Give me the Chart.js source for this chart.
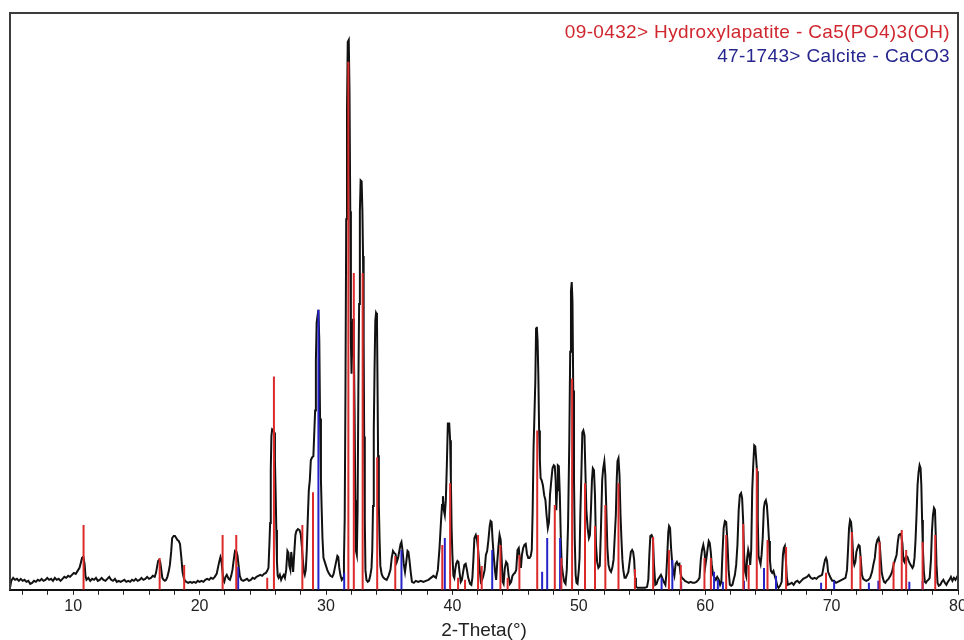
<!DOCTYPE html>
<html>
<head>
<meta charset="utf-8">
<title>XRD pattern</title>
<script src="https://cdn.jsdelivr.net/npm/chart.js@4.4.1/dist/chart.umd.min.js"></script>
<style>
  html, body { margin: 0; padding: 0; background: #ffffff; }
  #wrap { width: 964px; height: 640px; position: relative; }
</style>
</head>
<body>
<div id="wrap"><canvas id="xrd" width="964" height="640"></canvas></div>
<script>
// Measured diffraction scan: [2-theta (deg), intensity (counts)]
const scan = [
  [5.00,2],[5.10,9],[5.25,12],[5.40,10],[5.55,11],[5.70,9],[5.85,11],[6.00,9],[6.15,10],[6.30,8],
  [6.45,9],[6.60,6],[6.75,7],[6.90,9],[7.05,8],[7.20,10],[7.35,9],[7.50,11],[7.65,9],[7.80,10],
  [7.95,12],[8.10,10],[8.25,11],[8.40,9],[8.55,12],[8.70,10],[8.85,11],[9.00,9],[9.15,11],[9.30,13],
  [9.45,12],[9.60,14],[9.75,13],[9.90,15],[10.05,17],[10.20,16],[10.35,19],[10.50,22],[10.60,27],[10.70,32],
  [10.80,33],[10.90,26],[10.97,14],[11.05,10],[11.20,12],[11.35,9],[11.50,11],[11.65,10],[11.80,12],[11.95,9],
  [12.10,10],[12.25,12],[12.40,10],[12.55,9],[12.70,11],[12.85,13],[13.00,10],[13.15,9],[13.30,11],[13.45,8],
  [13.60,9],[13.75,8],[13.90,9],[14.05,10],[14.20,8],[14.35,9],[14.50,8],[14.65,10],[14.80,9],[14.95,11],
  [15.10,9],[15.25,10],[15.40,12],[15.55,10],[15.70,11],[15.85,13],[16.00,11],[16.15,12],[16.30,14],[16.45,13],
  [16.55,17],[16.65,24],[16.72,29],[16.80,30],[16.88,28],[16.95,22],[17.05,12],[17.15,10],[17.25,9],[17.35,10],
  [17.45,13],[17.55,18],[17.65,25],[17.75,38],[17.83,52],[17.95,54],[18.05,54],[18.15,52],[18.25,50],[18.35,49],
  [18.45,46],[18.55,33],[18.65,18],[18.75,12],[18.85,9],[18.95,8],[19.10,7],[19.25,8],[19.40,7],[19.55,8],
  [19.70,7],[19.85,9],[20.00,8],[20.15,9],[20.30,8],[20.45,10],[20.60,11],[20.75,10],[20.90,12],[21.05,11],
  [21.20,13],[21.35,16],[21.45,22],[21.55,28],[21.65,33],[21.72,30],[21.80,20],[21.87,10],[21.95,8],[22.05,13],
  [22.15,15],[22.30,11],[22.40,10],[22.50,14],[22.60,20],[22.70,30],[22.80,39],[22.92,38],[23.00,34],[23.08,25],
  [23.18,14],[23.30,10],[23.45,9],[23.60,10],[23.75,11],[23.90,9],[24.05,10],[24.20,12],[24.35,11],[24.50,13],
  [24.65,14],[24.80,15],[24.95,14],[25.10,16],[25.25,17],[25.35,19],[25.45,22],[25.52,45],[25.58,67],[25.63,120],
  [25.68,154],[25.74,161],[25.82,160],[25.90,158],[25.96,130],[26.02,95],[26.07,60],[26.12,28],[26.18,14],[26.25,12],
  [26.35,15],[26.45,10],[26.55,13],[26.65,15],[26.75,12],[26.85,20],[26.95,39],[27.03,37],[27.10,24],[27.18,20],
  [27.25,38],[27.32,30],[27.40,18],[27.48,35],[27.58,55],[27.66,59],[27.78,61],[27.90,60],[28.00,56],[28.08,45],
  [28.17,30],[28.25,18],[28.32,15],[28.40,20],[28.48,40],[28.56,72],[28.64,100],[28.72,110],[28.80,130],[28.90,133],
  [29.00,134],[29.08,160],[29.14,180],[29.20,230],[29.26,268],[29.33,275],[29.40,281],[29.47,250],[29.53,172],[29.60,110],
  [29.66,80],[29.72,52],[29.80,32],[29.90,28],[30.00,24],[30.10,20],[30.20,17],[30.35,14],[30.50,13],[30.60,16],
  [30.70,22],[30.80,28],[30.90,34],[30.97,33],[31.05,22],[31.15,14],[31.25,10],[31.35,12],[31.42,30],[31.48,72],
  [31.54,200],[31.60,372],[31.66,480],[31.72,550],[31.80,552],[31.86,500],[31.92,380],[31.97,250],[32.02,217],[32.08,250],
  [32.14,272],[32.20,250],[32.26,180],[32.32,90],[32.37,39],[32.44,35],[32.50,80],[32.56,200],[32.62,287],[32.68,380],
  [32.74,411],[32.82,410],[32.88,380],[32.93,335],[32.98,250],[33.02,154],[33.07,70],[33.12,20],[33.20,10],[33.30,8],
  [33.40,9],[33.50,14],[33.60,22],[33.66,40],[33.72,84],[33.78,160],[33.84,220],[33.90,270],[33.96,278],[34.03,276],
  [34.08,200],[34.12,135],[34.18,85],[34.24,50],[34.30,24],[34.40,16],[34.50,13],[34.65,11],[34.80,10],[34.95,14],
  [35.10,20],[35.20,32],[35.30,39],[35.40,37],[35.50,36],[35.60,28],[35.70,32],[35.80,39],[35.90,46],[35.97,48],
  [36.05,40],[36.15,26],[36.25,18],[36.35,28],[36.45,39],[36.52,38],[36.60,30],[36.70,18],[36.80,8],[36.95,7],
  [37.10,9],[37.30,8],[37.50,9],[37.70,8],[37.90,9],[38.10,10],[38.30,12],[38.50,14],[38.70,12],[38.85,20],
  [38.98,42],[39.10,69],[39.18,85],[39.25,94],[39.32,80],[39.40,75],[39.48,90],[39.56,125],[39.64,167],[39.75,167],
  [39.82,150],[39.88,110],[39.94,60],[40.00,35],[40.08,14],[40.15,12],[40.22,20],[40.30,26],[40.40,29],[40.48,28],
  [40.56,18],[40.66,8],[40.75,10],[40.85,18],[40.95,25],[41.05,26],[41.15,20],[41.25,12],[41.40,6],[41.50,5],
  [41.58,12],[41.66,30],[41.74,52],[41.85,55],[41.95,50],[42.05,38],[42.15,22],[42.25,8],[42.35,10],[42.45,14],
  [42.55,20],[42.65,35],[42.75,39],[42.85,50],[42.95,64],[43.02,69],[43.10,68],[43.18,50],[43.28,32],[43.38,18],
  [43.46,10],[43.55,28],[43.65,45],[43.73,55],[43.82,50],[43.90,30],[43.98,8],[44.05,6],[44.15,22],[44.25,28],
  [44.35,26],[44.45,14],[44.55,6],[44.65,8],[44.75,14],[44.85,16],[44.95,17],[45.05,20],[45.15,40],[45.25,42],
  [45.35,28],[45.42,22],[45.50,35],[45.60,42],[45.70,45],[45.80,46],[45.90,36],[46.00,32],[46.10,32],[46.20,34],
  [46.28,40],[46.35,80],[46.42,142],[46.50,180],[46.56,209],[46.62,262],[46.68,264],[46.74,250],[46.80,215],[46.86,160],
  [46.92,130],[46.98,112],[47.06,110],[47.16,105],[47.26,95],[47.36,90],[47.45,75],[47.55,62],[47.64,68],[47.72,95],
  [47.82,109],[47.92,122],[48.02,125],[48.10,124],[48.17,110],[48.22,80],[48.28,100],[48.34,125],[48.42,124],[48.50,95],
  [48.58,50],[48.65,25],[48.75,15],[48.85,8],[48.95,6],[49.05,20],[49.15,65],[49.25,150],[49.32,239],[49.38,300],
  [49.44,309],[49.50,290],[49.56,200],[49.62,110],[49.68,50],[49.75,15],[49.82,7],[49.90,6],[50.00,20],[50.06,32],
  [50.12,75],[50.20,115],[50.28,158],[50.36,160],[50.45,155],[50.52,120],[50.60,80],[50.70,62],[50.80,52],[50.88,55],
  [50.96,80],[51.04,110],[51.11,122],[51.20,120],[51.28,95],[51.36,45],[51.45,28],[51.55,22],[51.66,24],[51.75,60],
  [51.85,110],[51.93,122],[52.02,129],[52.10,115],[52.18,80],[52.26,42],[52.35,25],[52.45,20],[52.55,18],[52.65,22],
  [52.75,30],[52.85,55],[52.93,75],[53.00,110],[53.06,129],[53.14,132],[53.22,115],[53.30,75],[53.38,49],[53.45,30],
  [53.52,20],[53.62,12],[53.72,12],[53.82,15],[53.92,18],[54.02,28],[54.12,38],[54.22,40],[54.30,38],[54.38,30],
  [54.45,12],[54.52,3],[54.65,2],[54.85,2],[55.05,2],[55.25,2],[55.40,3],[55.50,10],[55.58,35],[55.66,54],
  [55.76,55],[55.86,52],[55.95,25],[56.05,5],[56.15,6],[56.25,10],[56.40,13],[56.50,15],[56.60,12],[56.72,8],
  [56.85,5],[56.92,15],[57.00,35],[57.08,58],[57.14,64],[57.22,62],[57.30,42],[57.40,25],[57.48,18],[57.56,14],
  [57.66,26],[57.76,28],[57.86,25],[57.96,26],[58.05,16],[58.15,12],[58.25,11],[58.40,9],[58.55,8],[58.70,7],
  [58.85,8],[59.00,7],[59.15,7],[59.30,8],[59.45,10],[59.55,12],[59.65,30],[59.75,40],[59.85,45],[59.95,38],
  [60.02,25],[60.10,32],[60.20,42],[60.28,49],[60.36,47],[60.44,38],[60.52,25],[60.62,15],[60.74,12],[60.84,10],
  [60.95,13],[61.08,10],[61.18,5],[61.28,8],[61.36,35],[61.46,62],[61.56,69],[61.66,68],[61.75,50],[61.85,20],
  [61.95,5],[62.05,4],[62.15,5],[62.25,10],[62.35,15],[62.45,25],[62.55,45],[62.65,80],[62.74,95],[62.84,97],
  [62.92,92],[63.00,70],[63.08,35],[63.16,18],[63.24,14],[63.32,32],[63.40,40],[63.48,35],[63.56,25],[63.64,40],
  [63.72,100],[63.80,125],[63.88,145],[63.96,144],[64.04,130],[64.10,119],[64.16,70],[64.22,34],[64.30,30],[64.38,26],
  [64.46,35],[64.55,52],[64.64,82],[64.72,88],[64.80,90],[64.88,85],[64.96,70],[65.05,49],[65.12,30],[65.20,19],
  [65.30,17],[65.40,19],[65.50,14],[65.60,10],[65.70,4],[65.80,2],[65.92,4],[66.05,8],[66.15,35],[66.22,42],
  [66.30,44],[66.38,30],[66.46,12],[66.55,5],[66.70,6],[66.85,7],[67.00,5],[67.15,8],[67.30,9],[67.45,7],
  [67.60,9],[67.75,11],[67.90,12],[68.05,13],[68.20,15],[68.35,12],[68.50,11],[68.65,12],[68.80,11],[68.95,13],
  [69.10,14],[69.25,15],[69.38,24],[69.48,30],[69.56,32],[69.64,29],[69.72,18],[69.82,15],[69.92,12],[70.05,9],
  [70.20,9],[70.35,7],[70.50,8],[70.65,9],[70.80,10],[70.95,11],[71.10,12],[71.22,20],[71.30,40],[71.38,62],
  [71.46,70],[71.54,68],[71.62,55],[71.72,30],[71.80,25],[71.88,28],[71.96,38],[72.05,42],[72.14,45],[72.22,44],
  [72.30,32],[72.40,15],[72.50,11],[72.60,10],[72.75,9],[72.90,10],[73.05,12],[73.20,18],[73.30,25],[73.42,32],
  [73.52,45],[73.62,50],[73.72,52],[73.80,47],[73.88,32],[73.96,18],[74.05,12],[74.15,8],[74.25,7],[74.35,9],
  [74.50,11],[74.65,14],[74.78,18],[74.90,25],[75.02,30],[75.14,35],[75.24,48],[75.32,55],[75.42,56],[75.52,54],
  [75.60,47],[75.68,30],[75.76,28],[75.84,32],[75.92,34],[76.00,33],[76.10,29],[76.20,26],[76.30,24],[76.40,22],
  [76.48,24],[76.56,32],[76.64,50],[76.72,75],[76.80,105],[76.88,118],[76.96,125],[77.04,122],[77.10,105],[77.16,70],
  [77.22,42],[77.30,18],[77.38,8],[77.46,7],[77.56,9],[77.66,10],[77.76,12],[77.86,30],[77.94,59],[78.02,75],
  [78.10,82],[78.18,80],[78.24,55],[78.30,25],[78.38,7],[78.48,4],[78.60,5],[78.72,8],[78.84,10],[78.96,7],
  [79.08,5],[79.20,8],[79.32,10],[79.44,13],[79.56,9],[79.68,12],[79.80,10],[79.92,13],[80.00,12]
];

// Reference card 09-0432 (hydroxylapatite): [2-theta, stick height]
const hydroxylapatite = [
  [10.82,65],[16.84,32],[18.78,25],[21.82,55],[22.90,55],[25.35,12],[25.88,214],[28.13,65],
  [28.97,98],[31.77,530],[32.20,318],[32.90,318],[34.05,133],[35.48,34],[39.20,45],[39.82,107],
  [40.45,12],[41.00,10],[42.03,55],[42.32,24],[43.80,45],[44.37,12],[45.30,35],[46.71,160],
  [48.10,85],[48.62,32],[49.47,212],[50.49,107],[51.28,64],[52.10,85],[53.14,107],[54.44,21],
  [55.88,53],[57.13,40],[58.07,25],[59.94,32],[60.45,32],[61.66,55],[63.01,66],[63.44,25],
  [64.08,122],[64.93,50],[66.40,43],[69.56,17],[71.60,58],[72.28,34],[73.80,48],[74.90,28],
  [75.55,60],[75.90,40],[77.20,48],[78.20,55]
];

// Reference card 47-1743 (calcite): [2-theta, stick height]
const calcite = [
  [23.05,23],[29.40,281],[31.44,17],[35.97,40],[39.40,52],[43.15,40],[47.10,18],[47.50,52],
  [48.52,52],[56.55,12],[57.40,30],[58.10,8],[60.70,18],[61.00,10],[61.40,8],[63.07,9],
  [64.65,22],[65.60,14],[69.17,7],[70.20,9],[72.95,7],[73.70,9],[76.15,8],[77.20,9]
];

const cardLabels = [
  '09-0432> Hydroxylapatite - Ca5(PO4)3(OH)',
  '47-1743> Calcite - CaCO3'
];
const axisTitle = '2-Theta(°)';

const RED = '#dc2a2a';
const BLUE = '#2424c8';

// turn [theta, height] pairs into vertical sticks separated by gaps
function sticks(list) {
  const pts = [];
  list.forEach(([t, h]) => {
    pts.push({x: t, y: 0}, {x: t, y: h}, {x: t, y: null});
  });
  return pts;
}

// frame around the plot area plus the card labels in the upper right
const framePlugin = {
  id: 'frame',
  afterDatasetsDraw(chart) {
    const {ctx, chartArea: a} = chart;
    ctx.save();
    ctx.strokeStyle = '#3c3c3c';
    ctx.lineWidth = 2;
    ctx.beginPath();
    ctx.moveTo(a.left, a.bottom);
    ctx.lineTo(a.left, a.top);
    ctx.lineTo(a.right, a.top);
    ctx.lineTo(a.right, a.bottom);
    ctx.stroke();

    ctx.font = '19px "Liberation Sans", Arial, sans-serif';
    if ('letterSpacing' in ctx) ctx.letterSpacing = '0.35px';
    ctx.textAlign = 'right';
    ctx.textBaseline = 'alphabetic';
    ctx.fillStyle = '#d0262e';
    ctx.fillText(cardLabels[0], a.right - 8, a.top + 25);
    ctx.fillStyle = '#26268e';
    ctx.fillText(cardLabels[1], a.right - 8, a.top + 49);
    ctx.restore();
  }
};

new Chart(document.getElementById('xrd'), {
  type: 'scatter',
  data: {
    datasets: [
      {
        label: 'Calcite',
        data: sticks(calcite),
        showLine: true,
        borderColor: BLUE,
        borderWidth: 2,
        pointRadius: 0,
        spanGaps: false,
        order: 1
      },
      {
        label: 'Hydroxylapatite',
        data: sticks(hydroxylapatite),
        showLine: true,
        borderColor: RED,
        borderWidth: 2,
        pointRadius: 0,
        spanGaps: false,
        order: 0
      },
      {
        label: 'Scan',
        data: scan.map(([t, c]) => ({x: t, y: c})),
        showLine: true,
        borderColor: '#111111',
        borderWidth: 2,
        pointRadius: 0,
        tension: 0,
        order: 2
      }
    ]
  },
  options: {
    responsive: false,
    animation: false,
    events: [],
    layout: { padding: { left: 10, right: 6, top: 13, bottom: 0 } },
    plugins: { legend: { display: false }, tooltip: { enabled: false } },
    scales: {
      x: {
        type: 'linear',
        min: 5,
        max: 80,
        offset: false,
        afterFit(scale) { scale.paddingLeft = 0; scale.paddingRight = 0; },
        border: { display: true, color: '#111', width: 2 },
        grid: { drawOnChartArea: false, drawTicks: true, tickLength: 5, color: '#222', lineWidth: 1 },
        ticks: {
          stepSize: 2,
          includeBounds: false,
          autoSkip: false,
          maxRotation: 0,
          padding: 2,
          color: '#222',
          font: { family: '"Liberation Sans", Arial, sans-serif', size: 16 },
          callback: (v) => (v % 10 === 0 ? String(v) : '')
        },
        title: {
          display: true,
          text: axisTitle,
          color: '#222',
          font: { family: '"Liberation Sans", Arial, sans-serif', size: 19, lineHeight: 1 },
          padding: { top: 3, bottom: 0 }
        }
      },
      y: {
        display: false,
        min: 0,
        max: 579
      }
    }
  },
  plugins: [framePlugin]
});
</script>
</body>
</html>
